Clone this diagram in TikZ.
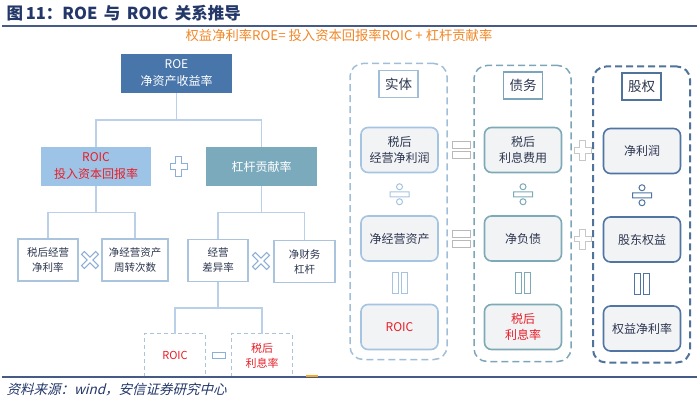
\documentclass[tikz,border=0pt]{standalone}
\usepackage{fontspec}
\usepackage{tikz}
\usetikzlibrary{calc}
\newfontfamily\cjk{Noto Sans CJK SC}
\newfontfamily\cjkslant[FakeSlant=0.25]{Noto Sans CJK SC}
\newcommand{\fs}[2]{\fontsize{#1}{#2}\selectfont}
\definecolor{navy}{RGB}{35,55,105}
\definecolor{rulec}{RGB}{70,90,135}
\definecolor{subor}{RGB}{240,135,40}
\definecolor{roeblue}{RGB}{72,117,170}
\definecolor{roicblue}{RGB}{157,195,230}
\definecolor{levteal}{RGB}{122,170,188}
\definecolor{redtext}{RGB}{232,30,40}
\definecolor{darktext}{RGB}{45,55,80}
\definecolor{treeline}{RGB}{185,208,232}
\definecolor{leafline}{RGB}{170,196,222}
\definecolor{symblue}{RGB}{140,175,215}
\definecolor{symgray}{RGB}{185,185,185}
\definecolor{cellgray}{RGB}{242,243,245}
\definecolor{colA}{RGB}{160,190,215}
\definecolor{colB}{RGB}{125,165,185}
\definecolor{colC}{RGB}{80,115,155}
\definecolor{cellA}{RGB}{165,196,226}
\definecolor{cellB}{RGB}{125,170,182}
\definecolor{cellC}{RGB}{80,117,162}

\begin{document}
\begin{tikzpicture}[x=1pt,y=-1pt,
  every node/.style={font=\cjk},
  tline/.style={draw=treeline,line width=1.4pt},
  topbox/.style={minimum width=111pt,minimum height=39pt,align=center,inner sep=0pt,font=\cjk\fs{12}{17}},
  leaf/.style={draw=leafline,line width=1.3pt,fill=white,minimum height=42pt,align=center,inner sep=0pt,text=darktext,font=\cjk\fs{10.5}{15}},
  dashleaf/.style={minimum width=60pt,minimum height=43pt,align=center,inner sep=0pt,text=redtext,font=\cjk\fs{11}{15}},
  dashside/.style={draw=leafline,line width=1.3pt,dash pattern=on 4pt off 3pt},
  colbox/.style={draw=#1,line width=1.5pt,dash pattern=on 7pt off 4pt,rounded corners=13pt,minimum width=97pt,minimum height=296pt},
  headbox/.style={draw=#1,line width=1.3pt,fill=white,minimum width=39pt,minimum height=27pt,inner sep=0pt,text=darktext,font=\cjk\fs{13.5}{16}},
  valbox/.style={draw=#1,line width=1.6pt,fill=cellgray,rounded corners=7pt,minimum width=77pt,minimum height=45pt,align=center,inner sep=0pt,text=darktext,font=\cjk\fs{12}{16}},
  symb/.style={draw=#1,line width=1pt,fill=white},
  plusmark/.pic={\path[pic actions] (-2.8,-10)--(2.8,-10)--(2.8,-2.8)--(8.5,-2.8)--(8.5,2.8)--(2.8,2.8)--(2.8,10)--(-2.8,10)--(-2.8,2.8)--(-8.5,2.8)--(-8.5,-2.8)--(-2.8,-2.8)--cycle;},
  timesmark/.pic={\path[pic actions,rotate=45] (-2,-10)--(2,-10)--(2,-2)--(10,-2)--(10,2)--(2,2)--(2,10)--(-2,10)--(-2,2)--(-10,2)--(-10,-2)--(-2,-2)--cycle;},
  minusmark/.pic={\path[pic actions] (-6.5,-3) rectangle (6.5,3);},
  eqmark/.pic={\path[pic actions] (-9,-8.5) rectangle (9,-1.5) (-9,1.5) rectangle (9,8.5);},
  parmark/.pic={\path[pic actions] (-7.5,-10.5) rectangle (-1.5,10.5) (1.5,-10.5) rectangle (7.5,10.5);},
  divmark/.pic={\path[pic actions] (-9.5,-2.5) rectangle (9.5,2.5) (0,-7.5) circle (3) (0,7.5) circle (3);}
  ]
  \useasboundingbox (0,0) rectangle (700,401);

  \node[anchor=west,text=navy,font=\cjk\bfseries\fs{16.5}{18}] (title) at (3,13.5) {图\,11：ROE\, 与\, ROIC\, 关系推导};
  \node[text=subor,font=\cjk\fs{13.3}{15}] (sub) at (339,35) {权益净利率ROE= 投入资本回报率ROIC + 杠杆贡献率};
  \node[anchor=west,text=navy,font=\cjkslant\fs{13.5}{15}] (src) at (3,389) {资料来源：wind，安信证券研究中心};

  \node[topbox,fill=roeblue,text=white] (roe) at (176.5,73.5) {ROE\\净资产收益率};
  \node[topbox,fill=roicblue,text=redtext,minimum width=110pt] (roic) at (96,166.5) {ROIC\\投入资本回报率};
  \node[topbox,fill=levteal,text=white] (lev) at (261.5,166.5) {杠杆贡献率};
  \node[leaf,minimum width=60pt] (npm) at (48,260) {税后经营\\净利率};
  \node[leaf,minimum width=66pt] (turn) at (135,260) {净经营资产\\周转次数};
  \node[leaf,minimum width=60pt] (spread) at (218,260.5) {经营\\差异率};
  \node[leaf,minimum width=61pt] (nfl) at (304.5,261.5) {净财务\\杠杆};
  \node[dashleaf] (roicb) at (175,355.5) {ROIC};
  \node[dashleaf] (rate) at (262,355.5) {税后\\利息率};
  \draw[dashside] (roicb.south west) -- (roicb.north west) -- (roicb.north east) -- (roicb.south east);
  \draw[dashside] (rate.south west) -- (rate.north west) -- (rate.north east) -- (rate.south east);

  \coordinate (j0) at ($(roe.south)!.5!(roe.south|-roic.north)$);
  \coordinate (j1) at ($(roic.south)!.5!(roic.south|-npm.north)$);
  \coordinate (j2) at ($(lev.south)!.5!(lev.south|-spread.north)$);
  \coordinate (j3) at ($(spread.south)!.5!(spread.south|-roicb.north)$);
  \draw[tline] (roe.south) -- (j0) (roic.north) |- (j0) -| (lev.north);
  \draw[tline] (roic.south) -- (j1) (npm.north) |- (j1) -| (turn.north);
  \draw[tline] (lev.south) -- (j2) (spread.north) |- (j2) -| (nfl.north);
  \draw[tline] (spread.south) -- (j3) (roicb.north) |- (j3) -| (rate.north);

  \pic[symb=symblue] at ($(roic.east)!.5!(lev.west)$) {plusmark};
  \pic[symb=symblue] at ($(npm.east)!.5!(turn.west)$) {timesmark};
  \pic[symb=symblue] at ($(spread.east)!.5!(nfl.west)$) {timesmark};
  \pic[symb=symblue] at ($(roicb.east)!.5!(rate.west)$) {minusmark};

  \node[colbox=colA] (ent) at (398.5,211.5) {};
  \node[colbox=colB] (debt) at (522.5,213.5) {};
  \node[colbox=colC,line width=2pt] (eqty) at (641.5,214.5) {};
  \node[headbox=colA] (entH) at (398.5,84) {实体};
  \node[headbox=colB] (debtH) at (523,85.5) {债务};
  \node[headbox=colC] (eqtyH) at (641.5,86.5) {股权};

  \node[valbox=cellA] (nopat) at (399.5,150) {税后\\经营净利润};
  \node[valbox=cellA] (noa) at (399.5,238.5) {净经营资产};
  \node[valbox=cellA,text=redtext] (roicr) at (399.5,327) {ROIC};
  \node[valbox=cellB] (intexp) at (523,150) {税后\\利息费用};
  \node[valbox=cellB] (nd) at (523,238.5) {净负债};
  \node[valbox=cellB,text=redtext] (intr) at (523,327) {税后\\利息率};
  \node[valbox=cellC] (ni) at (642,151) {净利润};
  \node[valbox=cellC] (se) at (642,239.5) {股东权益};
  \node[valbox=cellC] (roer) at (642,328.5) {权益净利率};

  \pic[symb=symgray] at ($(nopat.east)!.5!(intexp.west)$) {eqmark};
  \pic[symb=symgray] at ($(noa.east)!.5!(nd.west)$) {eqmark};
  \pic[symb=symgray!80] at ($(intexp.east)!.5!(ni.west)$) {plusmark};
  \pic[symb=symgray!80] at ($(nd.east)!.5!(se.west)$) {plusmark};
  \pic[symb=cellA] at ($(nopat.south)!.5!(noa.north)$) {divmark};
  \pic[symb=cellB] at ($(intexp.south)!.5!(nd.north)$) {divmark};
  \pic[symb=cellC] at ($(ni.south)!.5!(se.north)$) {divmark};
  \pic[symb=cellA] at ($(noa.south)!.5!(roicr.north)$) {parmark};
  \pic[symb=cellB] at ($(nd.south)!.5!(intr.north)$) {parmark};
  \pic[symb=cellC] at ($(se.south)!.5!(roer.north)$) {parmark};

  \draw[rulec,line width=1.3pt] (2,26) -- (697,26);
  \draw[rulec,line width=1.3pt] (2,377) -- (697,377);
  \draw[subor!70!yellow,line width=2pt] (306,375.5) -- (318,375.5);
\end{tikzpicture}
\end{document}
